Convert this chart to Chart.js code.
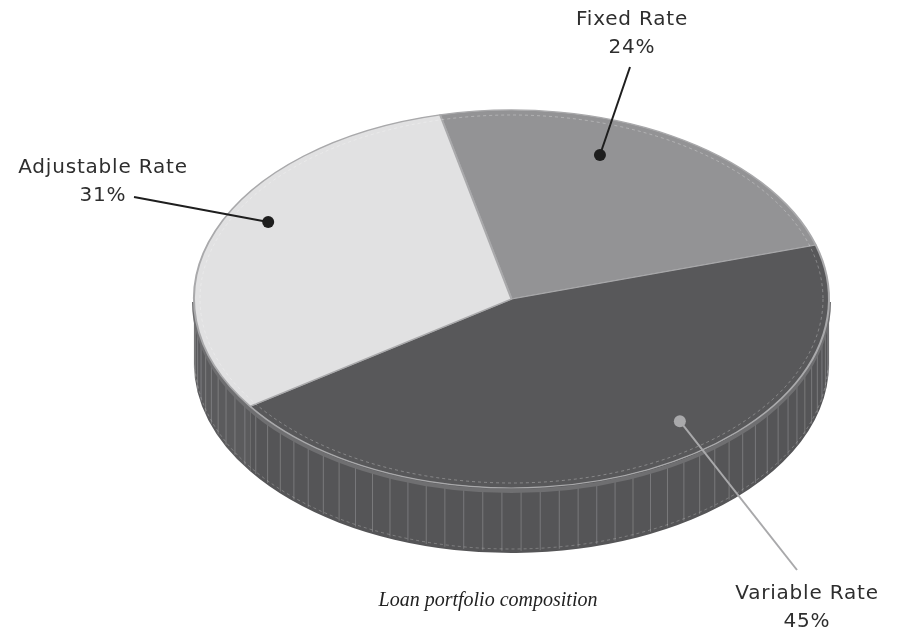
<!DOCTYPE html>
<html>
<head>
<meta charset="utf-8">
<script src="https://cdn.jsdelivr.net/npm/chart.js@4.4.1/dist/chart.umd.min.js"></script>
<style>
  html, body { margin: 0; padding: 0; background: #fff; }
  #wrap { width: 904px; height: 630px; position: relative; }
</style>
</head>
<body>
<div id="wrap"><canvas id="loanChart"></canvas></div>
<script>
const categories = ["Fixed Rate", "Variable Rate", "Adjustable Rate"];
const shares = [24, 45, 31];
const shareLabels = ["24%", "45%", "31%"];
const caption = "Loan portfolio composition";

const sliceColors = ["#939395", "#58585a", "#e1e1e2"];
const wallColors = ["#5e5e60", "#555557", "#5b5b5d"];

// where the tilted disc sits on the page
const disc = { cx: 511.5, cy: 299, rx: 317.5, ry: 189, depth: 65 };

// callouts: label centre, start of leader, where the dot sits inside the slice
const callouts = [
    { x: 632, y: 20, from: [630, 67], along: 0.383, reach: 0.811, color: "#1e1e1e" },
    { x: 807, y: 594, from: [797, 570], along: 0.415, reach: 0.836, color: "#a9a9ab" },
    { x: 103, y: 168, from: [134, 197], along: 0.561, reach: 0.868, color: "#1e1e1e" }
];

function onDisc(angle, frac) {
    return [disc.cx + disc.rx * frac * Math.cos(angle), disc.cy + disc.ry * frac * Math.sin(angle)];
}

// front wall of the disc, split per slice
function drawWalls(ctx, arcs) {
    const { cx, cy, rx, ry, depth } = disc;
    const pieces = [];
    arcs.forEach((arc, i) => {
        for (let k = -1; k <= 1; k++) {
            const lo = Math.max(arc.startAngle, 2 * Math.PI * k);
            const hi = Math.min(arc.endAngle, Math.PI + 2 * Math.PI * k);
            if (hi > lo) pieces.push({ lo, hi, color: wallColors[i] });
        }
    });
    pieces.forEach(p => {
        ctx.beginPath();
        ctx.ellipse(cx, cy, rx, ry, 0, p.lo, p.hi, false);
        ctx.ellipse(cx, cy + depth, rx, ry, 0, p.hi, p.lo, true);
        ctx.closePath();
        ctx.fillStyle = p.color;
        ctx.fill();
    });

    // ribbing on the wall
    const step = Math.PI / 52;
    for (let a = step / 2; a < Math.PI; a += step) {
        const x = cx + rx * Math.cos(a);
        const y = cy + ry * Math.sin(a);
        ctx.beginPath();
        ctx.moveTo(x, y + 4);
        ctx.lineTo(x, y + depth - 2);
        ctx.strokeStyle = "rgba(175,175,178,0.4)";
        ctx.lineWidth = 1;
        ctx.stroke();
    }

    // light band under the top rim
    ctx.beginPath();
    ctx.ellipse(cx, cy + 3, rx, ry, 0, 0, Math.PI, false);
    ctx.strokeStyle = "#6f6f71";
    ctx.lineWidth = 4;
    ctx.stroke();

    // faint dotted line near the bottom edge
    ctx.save();
    ctx.setLineDash([3, 3]);
    ctx.beginPath();
    ctx.ellipse(cx, cy + depth - 3, rx - 1, ry - 1, 0, 0.05, Math.PI - 0.05, false);
    ctx.strokeStyle = "rgba(200,200,200,0.35)";
    ctx.lineWidth = 1;
    ctx.stroke();
    ctx.restore();
}

const discPlugin = {
    id: "disc3d",
    beforeDatasetsDraw(chart) {
        const ctx = chart.ctx;
        const arcs = chart.getDatasetMeta(0).data;
        drawWalls(ctx, arcs);
        const R = arcs[0].outerRadius;
        ctx.save();
        ctx.translate(disc.cx, disc.cy);
        ctx.scale(disc.rx / R, disc.ry / R);
        ctx.translate(-arcs[0].x, -arcs[0].y);
    },
    afterDatasetsDraw(chart) {
        const ctx = chart.ctx;
        ctx.restore();
        // soft highlight just inside the rim
        ctx.save();
        ctx.setLineDash([3, 3]);
        ctx.beginPath();
        ctx.ellipse(disc.cx, disc.cy, disc.rx - 6, disc.ry - 5, 0, 0, 2 * Math.PI);
        ctx.strokeStyle = "rgba(255,255,255,0.28)";
        ctx.lineWidth = 1;
        ctx.stroke();
        ctx.restore();
    },
    afterDraw(chart) {
        const ctx = chart.ctx;
        const arcs = chart.getDatasetMeta(0).data;
        ctx.save();
        callouts.forEach((c, i) => {
            const arc = arcs[i];
            const ang = arc.startAngle + c.along * (arc.endAngle - arc.startAngle);
            const [dx, dy] = onDisc(ang, c.reach);
            ctx.beginPath();
            ctx.moveTo(c.from[0], c.from[1]);
            ctx.lineTo(dx, dy);
            ctx.strokeStyle = c.color;
            ctx.lineWidth = 2;
            ctx.stroke();
            ctx.beginPath();
            ctx.arc(dx, dy, 6, 0, 2 * Math.PI);
            ctx.fillStyle = c.color;
            ctx.fill();

            ctx.fillStyle = "#2e2e2e";
            ctx.font = '20px "DejaVu Sans"';
            ctx.letterSpacing = "0.8px";
            ctx.textAlign = "center";
            ctx.textBaseline = "middle";
            ctx.fillText(categories[i], c.x, c.y);
            ctx.fillText(shareLabels[i], c.x, c.y + 28);
        });
        ctx.letterSpacing = "0px";
        ctx.font = 'italic 20px "Liberation Serif"';
        ctx.fillStyle = "#222";
        ctx.textAlign = "center";
        ctx.textBaseline = "middle";
        ctx.fillText(caption, 488, 601);
        ctx.restore();
    }
};

new Chart(document.getElementById("loanChart"), {
    type: "pie",
    data: {
        labels: categories,
        datasets: [{
            data: shares,
            backgroundColor: sliceColors,
            borderColor: "#a9a9ab",
            borderWidth: 2,
            clip: false
        }]
    },
    options: {
        responsive: true,
        maintainAspectRatio: false,
        animation: false,
        rotation: -13,
        events: [],
        plugins: {
            legend: { display: false },
            tooltip: { enabled: false }
        }
    },
    plugins: [discPlugin]
});
</script>
</body>
</html>
